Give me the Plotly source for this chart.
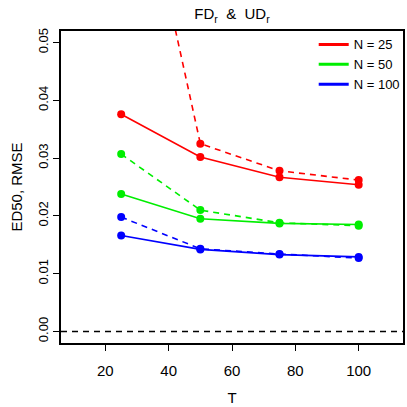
import plotly.graph_objects as go

T = [25, 50, 75, 100]

# solid = FD_r, dashed = UD_r
fd_25 = [0.0376, 0.0302, 0.0267, 0.0254]
ud_25 = [0.0950, 0.0325, 0.0278, 0.0262]
fd_50 = [0.0238, 0.0195, 0.0187, 0.0185]
ud_50 = [0.0307, 0.0210, 0.0188, 0.0183]
fd_100 = [0.0166, 0.0142, 0.0133, 0.0129]
ud_100 = [0.0198, 0.0143, 0.0134, 0.0127]

series = [
    ("N = 25", "#FF0000", fd_25, ud_25),
    ("N = 50", "#00EE00", fd_50, ud_50),
    ("N = 100", "#0000FF", fd_100, ud_100),
]

fig = go.Figure()

for name, col, fd, ud in series:
    fig.add_trace(go.Scatter(x=T, y=fd, mode="lines+markers", showlegend=False,
                             line=dict(color=col, width=1.6),
                             marker=dict(color=col, size=8)))
    fig.add_trace(go.Scatter(x=T, y=ud, mode="lines+markers", showlegend=False,
                             line=dict(color=col, width=1.6, dash="6px,5px"),
                             marker=dict(color=col, size=8)))

# legend entries (lines only)
for name, col, fd, ud in series:
    fig.add_trace(go.Scatter(x=[None], y=[None], mode="lines", name=name,
                             line=dict(color=col, width=3)))

fig.add_hline(y=0, line=dict(color="black", width=1.6, dash="6px,5px"))

axis_common = dict(showline=True, mirror=True, linecolor="black", linewidth=1.6,
                   ticks="outside", ticklen=6, tickcolor="black", showgrid=False,
                   zeroline=False)

fig.update_layout(
    width=407, height=407,
    margin=dict(l=61, r=2, t=31, b=64),
    plot_bgcolor="white", paper_bgcolor="white",
    font=dict(family="Liberation Sans, Arial, sans-serif", color="black"),
    title=dict(text="FD<sub>r</sub>  &  UD<sub>r</sub>", xref="paper", x=0.5,
               xanchor="center", y=0.965, yanchor="middle", font=dict(size=15)),
    xaxis=dict(range=[6, 114], tickvals=[20, 40, 60, 80, 100], ticklabelstandoff=7,
               tickfont=dict(size=15), title=dict(text="T", font=dict(size=15), standoff=15),
               **axis_common),
    yaxis=dict(range=[-0.002, 0.052], tickvals=[0, 0.01, 0.02, 0.03, 0.04, 0.05],
               tickformat=".2f", tickangle=-90, tickfont=dict(size=13),
               title=dict(text="ED50, RMSE", font=dict(size=15), standoff=10), **axis_common),
    legend=dict(x=1.005, y=1.005, xanchor="right", yanchor="top",
                bgcolor="rgba(0,0,0,0)", font=dict(size=13),
                tracegroupgap=0, itemwidth=30),
)

fig.write_html("out.html", config={"displayModeBar": False},
               post_script="document.body.style.margin='0';document.body.style.overflow='hidden';")
